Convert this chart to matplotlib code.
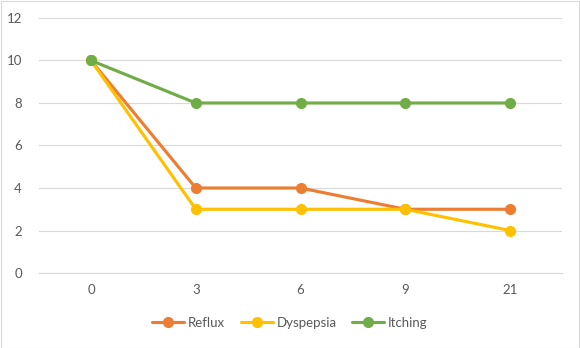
import matplotlib
matplotlib.use("Agg")
import matplotlib.pyplot as plt
from matplotlib.patches import Rectangle

categories = ["0", "3", "6", "9", "21"]
reflux = [10, 4, 4, 3, 3]
dyspepsia = [10, 3, 3, 3, 2]
itching = [10, 8, 8, 8, 8]
yticks = [0, 2, 4, 6, 8, 10, 12]

plt.rcParams['font.family'] = ['Lato', 'DejaVu Sans']
text_color = '#595959'

fig = plt.figure(figsize=(5.8, 3.48), dpi=100)
fig.patches.append(Rectangle((0.5/580, 0.5/348), 1 - 1.5/580, 1 - 1.5/348, transform=fig.transFigure,
                             fill=False, edgecolor='#D9D9D9', linewidth=0.8))
ax = fig.add_axes([0.0666, 0.2155, 0.9031, 0.7328])

x = list(range(len(categories)))
series = [("Reflux", reflux, '#ED7D31'), ("Dyspepsia", dyspepsia, '#FFC000'), ("Itching", itching, '#70AD47')]
for name, vals, c in series:
    ax.plot(x, vals, color=c, linewidth=2.25, marker='o', markersize=7, label=name, solid_capstyle='round')

ax.set_xlim(-0.5, len(categories) - 0.5)
ax.set_ylim(0, 12)
ax.set_yticks(yticks)
ax.set_xticks(x)
ax.set_xticklabels(categories)
ax.grid(axis='y', color='#D9D9D9', linewidth=0.8)
ax.set_axisbelow(True)
for s in ['top', 'right', 'left']:
    ax.spines[s].set_visible(False)
ax.spines['bottom'].set_color('#D9D9D9')
ax.spines['bottom'].set_linewidth(0.8)
ax.tick_params(axis='both', length=0, colors=text_color, labelsize=9.5)
ax.tick_params(axis='y', pad=12)
ax.tick_params(axis='x', pad=8)

leg = fig.legend(loc='center', bbox_to_anchor=(0.5, 1 - 323/348), ncol=3, frameon=False,
                 fontsize=9.5, handlelength=2.4, columnspacing=1.2, handletextpad=0.3)
for t in leg.get_texts():
    t.set_color(text_color)

fig.savefig('out.png', dpi=100)
